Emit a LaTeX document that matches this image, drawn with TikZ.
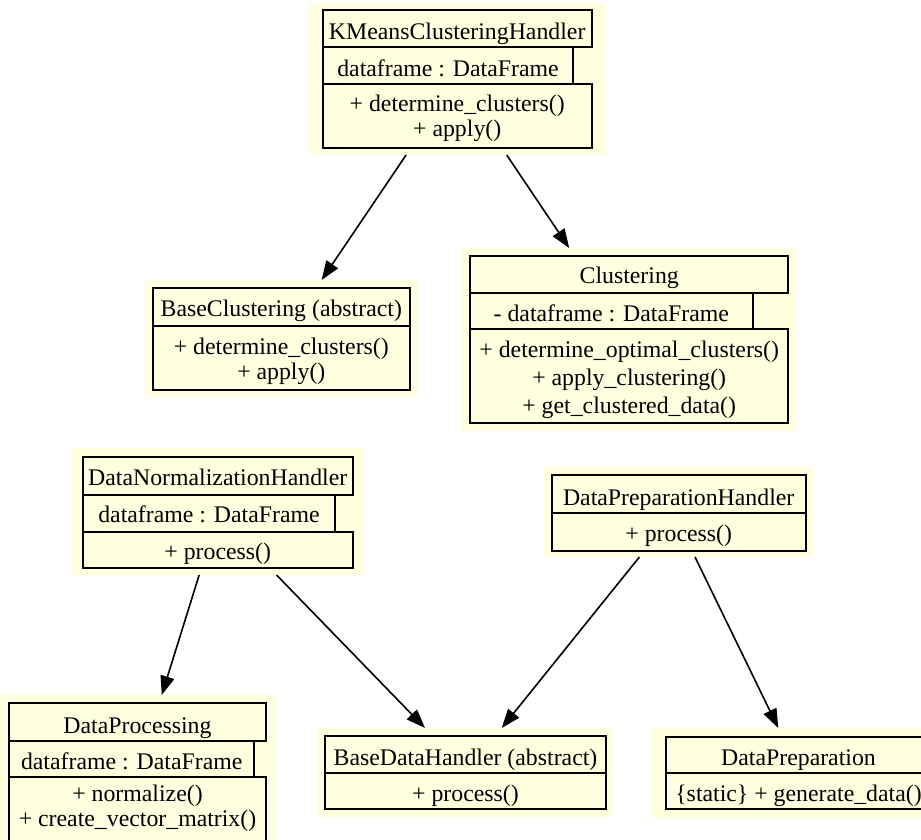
\documentclass[tikz,border=0pt]{standalone}
\usepackage{fontspec}
\setmainfont{Liberation Serif}
\usetikzlibrary{arrows.meta,calc}
\definecolor{cream}{RGB}{255,255,224}
\tikzset{
  bg/.style={fill=cream, draw=none, inner sep=0pt, outer sep=0pt, anchor=north west},
  cell/.style={draw=black, line width=1.7pt},
  lbl/.style={font=\fontsize{23.8}{25}\selectfont, inner sep=0pt, anchor=base, text=black},
  arr/.style={line width=1.6pt, draw=black, -{Triangle[length=19pt,width=14pt]}},
}
\begin{document}
\begin{tikzpicture}[x=1pt,y=-1pt]
\useasboundingbox (0,0) rectangle (921,839);
\clip (0,0) rectangle (921,839);
% backgrounds
\node[bg, minimum width=296pt, minimum height=152pt] (km) at (309,3) {};
\node[bg, minimum width=273pt, minimum height=117pt] (bc) at (145,280) {};
\node[bg, minimum width=334pt, minimum height=183pt] (cl) at (462,248) {};
\node[bg, minimum width=291pt, minimum height=127pt] (dn) at (72,448) {};
\node[bg, minimum width=270pt, minimum height=90pt] (dph) at (543,467) {};
\node[bg, minimum width=277pt, minimum height=155pt] (dp) at (0,695) {};
\node[bg, minimum width=294pt, minimum height=89pt] (bdh) at (318,728) {};
\node[bg, minimum width=293pt, minimum height=90pt] (dpr) at (652,728) {};
% KMeansClusteringHandler
\draw[cell] (322.7,10) rectangle (591.7,46.7);
\draw[cell] (322.7,46.7) rectangle (573.3,84);
\draw[cell] (322.7,84) rectangle (591.7,148.3);
\node[lbl] (kmA) at (457.2,39.3) {KMeansClusteringHandler};
\node[lbl] (kmB) at (448,76.7) {dataframe : DataFrame};
\node[lbl] (kmC) at (457.2,111.7) {+ determine\_clusters()};
\node[lbl] (kmD) at (457.2,136.7) {+ apply()};
% BaseClustering
\draw[cell] (152.7,287.7) rectangle (410,325.7);
\draw[cell] (152.7,325.7) rectangle (410,390);
\node[lbl] (bcA) at (281.3,316.7) {BaseClustering (abstract)};
\node[lbl] (bcB) at (281.3,354.3) {+ determine\_clusters()};
\node[lbl] (bcC) at (281.3,379.3) {+ apply()};
% Clustering
\draw[cell] (470,256) rectangle (788.3,292.7);
\draw[cell] (470,292.7) rectangle (752.7,329.3);
\draw[cell] (470,329.3) rectangle (788.3,423.3);
\node[lbl] (clA) at (629.2,283.3) {Clustering};
\node[lbl] (clB) at (611.3,321) {- dataframe : DataFrame};
\node[lbl] (clC) at (629.2,357.3) {+ determine\_optimal\_clusters()};
\node[lbl] (clD) at (629.2,385) {+ apply\_clustering()};
\node[lbl] (clE) at (629.2,413.3) {+ get\_clustered\_data()};
% DataNormalizationHandler
\draw[cell] (82.7,457.3) rectangle (352.7,495);
\draw[cell] (82.7,495) rectangle (335.3,531.7);
\draw[cell] (82.7,531.7) rectangle (352.7,568.3);
\node[lbl] (dnA) at (217.7,485.7) {DataNormalizationHandler};
\node[lbl] (dnB) at (209,522.7) {dataframe : DataFrame};
\node[lbl] (dnC) at (217.7,559.3) {+ process()};
% DataPreparationHandler
\draw[cell] (551.7,475) rectangle (805.7,512.7);
\draw[cell] (551.7,512.7) rectangle (805.7,550.7);
\node[lbl] (dphA) at (678.7,505) {DataPreparationHandler};
\node[lbl] (dphB) at (678.7,541.7) {+ process()};
% DataProcessing
\draw[cell] (9.3,703.3) rectangle (265.7,740.7);
\draw[cell] (9.3,740.7) rectangle (254,777.3);
\draw[cell] (9.3,777.3) rectangle (265.7,842);
\node[lbl] (dpA) at (137.5,733.3) {DataProcessing};
\node[lbl] (dpB) at (131.7,769.3) {dataframe : DataFrame};
\node[lbl] (dpC) at (137.5,801.7) {+ normalize()};
\node[lbl] (dpD) at (137.5,826.7) {+ create\_vector\_matrix()};
% BaseDataHandler
\draw[cell] (325,736) rectangle (606,772.7);
\draw[cell] (325,772.7) rectangle (606,809.3);
\node[lbl] (bdhA) at (465.5,765) {BaseDataHandler (abstract)};
\node[lbl] (bdhB) at (465.5,801.7) {+ process()};
% DataPreparation
\draw[cell] (666,736.7) rectangle (931,773.3);
\draw[cell] (666,773.3) rectangle (931,809.3);
\node[lbl] (dprA) at (798.5,765) {DataPreparation};
\node[lbl] (dprB) at (798.5,801.7) {\{static\} + generate\_data()};
% arrows
\draw[arr] ($(km.south west)!0.328!(km.south east)$) -- ($(bc.north west)!0.647!(bc.north east)$);
\draw[arr] ($(km.south west)!0.668!(km.south east)$) -- ($(cl.north west)!0.321!(cl.north east)$);
\draw[arr] ($(dn.south west)!0.437!(dn.south east)$) -- ($(dp.north west)!0.584!(dp.north east)$);
\draw[arr] ($(dn.south west)!0.703!(dn.south east)$) -- ($(bdh.north west)!0.364!(bdh.north east)$);
\draw[arr] ($(dph.south west)!0.357!(dph.south east)$) -- ($(bdh.north west)!0.625!(bdh.north east)$);
\draw[arr] ($(dph.south west)!0.563!(dph.south east)$) -- ($(dpr.north west)!0.431!(dpr.north east)$);
\end{tikzpicture}
\end{document}
